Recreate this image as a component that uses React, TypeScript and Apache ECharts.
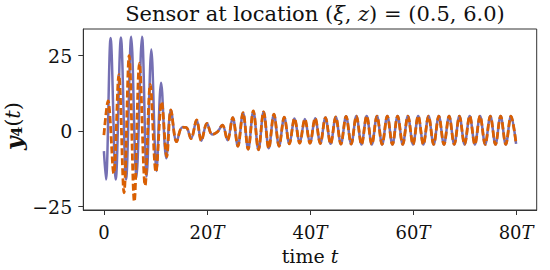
import React, { useEffect, useRef } from "react";
import * as echarts from "echarts";

// [time (in units of T), value] extrema
const solidHead: [number, number][] = [
  [0, -6.6], [0.4, -16.0], [1.3, 30.8], [2.3, -16.0], [3.3, 31.0], [4.3, -16.0],
  [5.3, 31.2], [6.3, -15.5], [7.4, 31.2], [8.3, -15.0], [9.2, 27.0], [10.2, -13.2],
  [11.1, 16.0], [12.1, -9.0],
];

const dashedHead: [number, number][] = [
  [0, -1.3], [0.8, 10.0], [1.9, -14.0], [2.9, 18.7], [3.9, -20.4], [4.9, 25.0],
  [5.9, -23.3], [6.9, 22.5], [8.0, -18.0], [9.0, 15.5], [10.1, -13.5], [11.2, 9.7],
  [12.2, -8.4],
];

const sharedTail: [number, number][] = [
  [13.0, 7.0], [14.1, -3.5], [15.2, 1.3], [16.0, 1.2], [16.9, -2.5], [18.0, 3.7],
  [18.9, -3.2], [20.0, 2.6], [21.0, -1.1], [22.0, -0.3], [23.0, 2.0], [24.0, -3.0],
  [25, 4.5], [26, -5.0], [27, 6.1], [28, -6.0], [29, 6.7], [30, -6.2], [31, 6.4],
  [32, -5.7], [33, 5.6], [34, -5.0], [35, 4.6], [36, -4.2], [37, 4.2], [38, -4.0],
  [39, 4.0], [40, -4.0], [41, 4.3], [42, -4.1], [43, 4.5], [44, -4.2], [45, 4.7],
  [46, -4.3], [47, 4.9], [48, -4.3], [49, 5.0], [50, -4.4], [51, 5.0], [52, -4.4],
  [53, 5.0], [54, -4.4], [55, 5.0], [56, -4.4], [57, 5.0], [58, -4.4], [59, 5.0],
  [60, -4.4], [61, 5.0], [62, -4.4], [63, 5.0], [64, -4.4], [65, 5.0], [66, -4.4],
  [67, 5.0], [68, -4.4], [69, 5.0], [70, -4.4], [71, 5.0], [72, -4.4], [73, 5.0],
  [74, -4.4], [75, 5.0], [76, -4.4], [77, 5.0], [78, -4.4], [79, 5.0], [80, -4.2],
];

const xTicks = [0, 20, 40, 60, 80];
const yTicks = [-25, 0, 25];

const FONT = "'DejaVu Serif', serif";
const AXIS_COLOR = "#333333";
const TEXT_COLOR = "#111111";

export default function App() {
  const ref = useRef<HTMLDivElement>(null);
  useEffect(() => {
    if (!ref.current) return;
    const chart = echarts.init(ref.current, undefined, { renderer: "svg" });
    const ital = (fs: number) => ({ fontFamily: FONT, fontSize: fs, fontStyle: "italic", color: TEXT_COLOR });
    chart.setOption({
      animation: false,
      title: {
        text: "Sensor at location ({i|ξ}, {i|z}) = (0.5, 6.0)",
        left: 315,
        top: 3,
        padding: 0,
        textAlign: "center",
        textStyle: {
          fontFamily: FONT,
          fontSize: 21,
          fontWeight: "normal",
          color: TEXT_COLOR,
          rich: { i: ital(21) },
        },
      },
      graphic: [
        {
          type: "text",
          x: 13,
          y: 126,
          rotation: Math.PI / 2,
          style: {
            text: "{b|y}{s|4}({i|t})",
            align: "center",
            verticalAlign: "middle",
            fontFamily: FONT,
            fontSize: 21,
            fill: TEXT_COLOR,
            rich: {
              b: { fontFamily: FONT, fontSize: 23, fontWeight: "bold", fontStyle: "italic", fill: TEXT_COLOR, lineHeight: 22 },
              s: { fontFamily: FONT, fontSize: 14, fontWeight: "bold", fill: TEXT_COLOR, lineHeight: 14, verticalAlign: "bottom" },
              i: { fontFamily: FONT, fontSize: 21, fontStyle: "italic", fill: TEXT_COLOR, lineHeight: 22 },
            },
          },
        },
      ],
      grid: {
        left: 83.3,
        right: 13.3,
        top: 29,
        bottom: 60,
        show: true,
        borderColor: AXIS_COLOR,
        borderWidth: 1,
        outerBoundsMode: "none",
      },
      xAxis: {
        type: "value",
        min: -4,
        max: 84,
        splitLine: { show: false },
        axisLine: { show: true, onZero: false, lineStyle: { color: AXIS_COLOR, width: 1 } },
        axisTick: { show: true, length: 5, customValues: xTicks, lineStyle: { color: AXIS_COLOR } },
        axisLabel: {
          customValues: xTicks,
          margin: 13,
          fontFamily: FONT,
          fontSize: 18,
          color: TEXT_COLOR,
          formatter: (v: number) => (v === 0 ? "0" : `${v}{i|T}`),
          rich: { i: ital(18) },
        },
        name: "time {i|t}",
        nameLocation: "middle",
        nameGap: 36,
        nameTextStyle: {
          fontFamily: FONT,
          fontSize: 19,
          color: TEXT_COLOR,
          rich: { i: ital(19) },
        },
      },
      yAxis: {
        type: "value",
        min: -26.1,
        max: 33.8,
        splitLine: { show: false },
        axisLine: { show: true, onZero: false, lineStyle: { color: AXIS_COLOR, width: 1 } },
        axisTick: { show: true, length: 5, customValues: yTicks, lineStyle: { color: AXIS_COLOR } },
        axisLabel: {
          customValues: yTicks,
          margin: 11,
          fontFamily: FONT,
          fontSize: 19,
          color: TEXT_COLOR,
          formatter: (v: number) => (v < 0 ? "\u2212" + Math.abs(v) : String(v)),
        },
      },
      series: [
        {
          type: "line",
          data: [...solidHead, ...sharedTail],
          smooth: 0.36,
          showSymbol: false,
          lineStyle: { color: "#7570b3", width: 2.5 },
          z: 2,
        },
        {
          type: "line",
          data: [...dashedHead, ...sharedTail],
          smooth: 0.36,
          showSymbol: false,
          lineStyle: { color: "#d95f02", width: 2.8, type: [7, 3] },
          z: 3,
        },
      ],
    });
    return () => chart.dispose();
  }, []);
  return (
    <div
      ref={ref}
      style={{ position: "fixed", left: 0, top: 0, width: 550, height: 270, background: "#fff" }}
    />
  );
}
